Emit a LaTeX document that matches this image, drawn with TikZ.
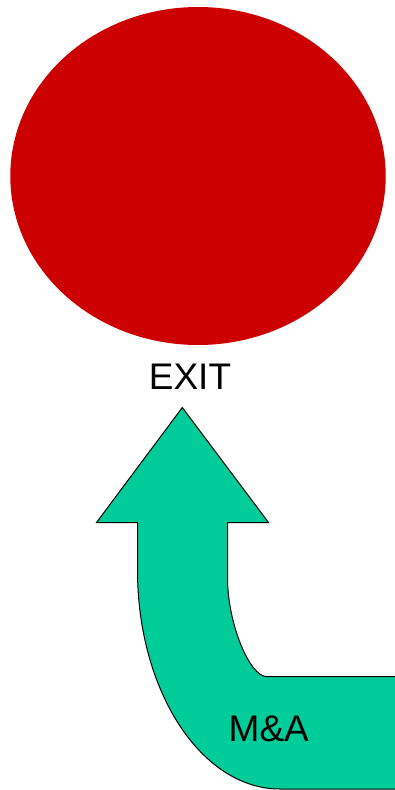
\documentclass[tikz,border=0pt]{standalone}
\usepackage{fontspec}
\setmainfont{Liberation Sans}
\definecolor{exitred}{HTML}{CC0000}
\definecolor{mergegreen}{HTML}{00CC99}

\begin{document}
\begin{tikzpicture}[x=1pt,y=-1pt]
  % Parameters
  \def\tipX{182.3}      % arrow tip
  \def\tipY{407.5}
  \def\headY{522.5}     % base of the arrow head
  \def\headL{96.5}
  \def\headR{268.5}
  \def\shaftL{137.5}    % shaft edges
  \def\shaftR{227.5}
  \def\bendY{676.7}     % inner horizontal edge
  \def\baseY{789}       % outer horizontal edge
  \useasboundingbox (0,0) rectangle (394,790);
  % Red exit light
  \fill[exitred] (198,176) ellipse [x radius=187.7, y radius=169];
  \node[font=\fontsize{37}{37}\selectfont,anchor=base] (exit) at (190,389) {EXIT};
  % Bent arrow coming in from the right
  \draw[fill=mergegreen,draw=black,line width=1pt,line join=miter]
    (\tipX,\tipY) -- (\headR,\headY) -- (\shaftR,\headY) -- (\shaftR,578)
    .. controls (\shaftR,622.4) and (249.2,\bendY) .. (267,\bendY) -- (400,\bendY)
    -- (400,\baseY) -- (280,\baseY)
    .. controls (201.3,\baseY) and (\shaftL,691) .. (\shaftL,570)
    -- (\shaftL,\headY) -- (\headL,\headY) -- cycle;
  \node[font=\fontsize{37}{37}\selectfont,anchor=base] (merge) at (268.8,741.5) {M\&A};
\end{tikzpicture}
\end{document}
